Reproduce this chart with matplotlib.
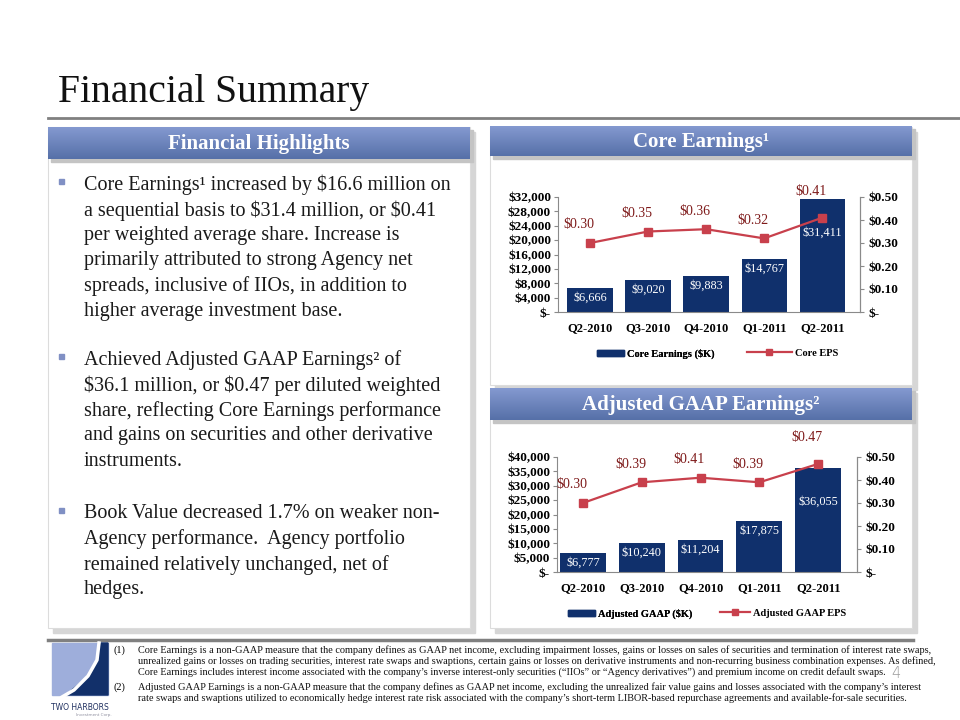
import numpy as np
import matplotlib
matplotlib.use('Agg')
import matplotlib.pyplot as plt
from matplotlib.patches import Rectangle, Polygon
from matplotlib.lines import Line2D
from matplotlib.ticker import FuncFormatter

plt.rcParams['font.family'] = ['Liberation Serif', 'DejaVu Serif']
plt.rcParams['text.parse_math'] = False

# data
quarters = ['Q2-2010', 'Q3-2010', 'Q4-2010', 'Q1-2011', 'Q2-2011']
core_earnings = [6666, 9020, 9883, 14767, 31411]
core_eps = [0.30, 0.35, 0.36, 0.32, 0.41]
adj_gaap = [6777, 10240, 11204, 17875, 36055]
adj_eps = [0.30, 0.39, 0.41, 0.39, 0.47]

bullet1 = ["Core Earnings\u00b9 increased by $16.6 million on",
           "a sequential basis to $31.4 million, or $0.41",
           "per weighted average share. Increase is",
           "primarily attributed to strong Agency net",
           "spreads, inclusive of IIOs, in addition to",
           "higher average investment base."]
bullet2 = ["Achieved Adjusted GAAP Earnings\u00b2 of",
           "$36.1 million, or $0.47 per diluted weighted",
           "share, reflecting Core Earnings performance",
           "and gains on securities and other derivative",
           "instruments."]
bullet3 = ["Book Value decreased 1.7% on weaker non-",
           "Agency performance.  Agency portfolio",
           "remained relatively unchanged, net of",
           "hedges."]

foot1 = ["Core Earnings is a non-GAAP measure that the company defines as GAAP net income, excluding impairment losses, gains or losses on sales of securities and termination of interest rate swaps,",
         "unrealized gains or losses on trading securities, interest rate swaps and swaptions, certain gains or losses on derivative instruments and non-recurring business combination expenses. As defined,",
         "Core Earnings includes interest income associated with the company\u2019s inverse interest-only securities (\u201cIIOs\u201d or \u201cAgency derivatives\u201d) and premium income on credit default swaps."]
foot2 = ["Adjusted GAAP Earnings is a non-GAAP measure that the company defines as GAAP net income, excluding the unrealized fair value gains and losses associated with the company\u2019s interest",
         "rate swaps and swaptions utilized to economically hedge interest rate risk associated with the company\u2019s short-term LIBOR-based repurchase agreements and available-for-sale securities."]

navy = '#10306c'
red = '#c8404c'
darkred = '#7e1a1a'

W, H = 960, 720
fig = plt.figure(figsize=(9.6, 7.2), dpi=100)

# background canvas in pixel coordinates
bg = fig.add_axes([0, 0, 1, 1])
bg.set_xlim(0, W)
bg.set_ylim(H, 0)
bg.axis('off')

bg.text(58, 102, 'Financial Summary', fontsize=28.5, va='baseline', color='#111111')
bg.plot([48, W], [118, 118], color='#808080', lw=2)

grad = np.linspace(0, 1, 64).reshape(-1, 1)
hcmap = matplotlib.colors.LinearSegmentedColormap.from_list('hdr', ['#8499d0', '#5670a8'])


def panel(x0, y0, x1, y1):
    bg.add_patch(Rectangle((x0 + 5, y0 + 5), x1 - x0, y1 - y0, color='#d6d6d6', zorder=1))
    bg.add_patch(Rectangle((x0, y0), x1 - x0, y1 - y0, facecolor='white',
                           edgecolor='#dcdcdc', lw=0.8, zorder=2))


def header(x0, y0, x1, y1, label):
    bg.add_patch(Rectangle((x0 + 3, y0 + 3), x1 - x0, y1 - y0, color='#c4c4c4', zorder=3))
    bg.imshow(grad, extent=[x0, x1, y1, y0], cmap=hcmap, aspect='auto', zorder=4)
    bg.text((x0 + x1) / 2, (y0 + y1) / 2 + 1, label, color='white', fontsize=15,
            fontweight='bold', ha='center', va='center', zorder=5)


panel(48, 127, 470, 628)
panel(490, 127, 912, 385)
panel(490, 388, 912, 628)
header(48, 127, 470, 159, 'Financial Highlights')
header(490, 126, 912, 156, 'Core Earnings\u00b9')
header(490, 388, 912, 420, 'Adjusted GAAP Earnings\u00b2')
bg.set_xlim(0, W)
bg.set_ylim(H, 0)

for lines, y0 in [(bullet1, 185), (bullet2, 360), (bullet3, 514)]:
    bg.add_patch(Rectangle((59, y0 - 6), 5, 5, color='#8090c4', zorder=6))
    for i, ln in enumerate(lines):
        bg.text(84, y0 + i * 25.3, ln, fontsize=14.5, va='center', color='#1a1a1a', zorder=6)

# footer
bg.plot([48, 913], [640, 640], color='#808080', lw=2.5)
for num, lines, fy in [('(1)', foot1, 650), ('(2)', foot2, 687)]:
    bg.text(114, fy, num, fontsize=7.4, va='center')
    for ln in lines:
        bg.text(138, fy, ln, fontsize=7.4, va='center', color='#111111')
        fy += 11.2
bg.text(891, 677.5, '4', fontsize=10.5, va='baseline', color='#9a9a9a', family='DejaVu Sans',
        fontweight='light')

# logo
bg.add_patch(Rectangle((52, 643), 56, 52, color='#9eaedb', zorder=2))
bg.add_patch(Polygon([(108, 643), (108, 695), (66, 695), (86, 678), (98, 660), (101, 643)],
                     color='#12306a', zorder=3))
bg.plot([99, 97, 88, 74, 62], [643, 660, 676, 690, 697], color='white', lw=2.5, zorder=4)
bg.text(80, 707, 'TWO HARBORS', fontsize=5.5, ha='center', va='center', color='#203060',
        family='DejaVu Sans')
bg.text(94, 715, 'Investment Corp.', fontsize=3, ha='center', va='center', color='#9090a0',
        family='DejaVu Sans')


def money(v, pos=None):
    return '$-' if v == 0 else '${:,.0f}'.format(v)


def eps_fmt(v, pos=None):
    return '$-' if v == 0 else '${:.2f}'.format(v)


def make_chart(rect_px, xlim, vals, eps, ymax, ystep, bar_label, eps_label, leg):
    x0, y0, x1, y1 = rect_px
    ax = fig.add_axes([x0 / W, 1 - y1 / H, (x1 - x0) / W, (y1 - y0) / H], zorder=10)
    ax.patch.set_alpha(0)
    x = np.arange(len(quarters))
    ax.bar(x, vals, width=0.78, color=navy, zorder=2)
    ax.set_xlim(*xlim)
    ax.set_ylim(0, ymax)
    ax.set_yticks(np.arange(0, ymax + 1, ystep))
    ax.yaxis.set_major_formatter(FuncFormatter(money))
    ax.set_xticks(x)
    ax.set_xticklabels(quarters)
    ax.spines['top'].set_visible(False)
    for s in ['left', 'bottom', 'right']:
        ax.spines[s].set_color('#8a8a8a')
        ax.spines[s].set_linewidth(0.8)
    ax.tick_params(axis='y', length=3, color='#8a8a8a', pad=2, labelsize=9.5)
    ax.tick_params(axis='x', length=0, pad=7, labelsize=9)
    for t in ax.get_xticklabels() + ax.get_yticklabels():
        t.set_fontweight('bold')
    for i, v in enumerate(vals):
        dy = -24 if i == len(vals) - 1 else -7
        ax.annotate(money(v), (i, v), xytext=(0, dy), textcoords='offset points',
                    ha='center', va='center', color='white', fontsize=8.8, zorder=5)

    ax2 = ax.twinx()
    ax2.set_zorder(11)
    ax2.plot(x, eps, color=red, lw=1.6, marker='s', markersize=6, zorder=3)
    ax2.set_ylim(0, 0.5)
    ax2.set_yticks(np.arange(0, 0.51, 0.1))
    ax2.yaxis.set_major_formatter(FuncFormatter(eps_fmt))
    ax2.tick_params(axis='y', length=3, color='#8a8a8a', pad=3, labelsize=9.5)
    for t in ax2.get_yticklabels():
        t.set_fontweight('bold')
    for s in ['top', 'left', 'bottom']:
        ax2.spines[s].set_visible(False)
    ax2.spines['right'].set_color('#8a8a8a')
    ax2.spines['right'].set_linewidth(0.8)
    for i, v in enumerate(eps):
        dy = 19 if i == len(eps) - 1 else 13
        ax2.annotate(eps_fmt(v), (i, v), xytext=(-8, dy), textcoords='offset points',
                     ha='center', va='center', color=darkred, fontsize=10)

    bx, lx, lh = leg
    h1 = Rectangle((0, 0), 1, 1, color=navy)
    l1 = ax.legend([h1], [bar_label], loc='center left', bbox_to_anchor=(bx, -0.36),
                   frameon=False, borderpad=0, borderaxespad=0, handlelength=2.6,
                   handleheight=0.5, handletextpad=0.3, prop={'weight': 'bold', 'size': 7.5})
    ax.add_artist(l1)
    h2 = Line2D([], [], color=red, lw=1.6, marker='s', markersize=5)
    ax2.legend([h2], [eps_label], loc='center left', bbox_to_anchor=(lx, -0.36),
               frameon=False, borderpad=0, borderaxespad=0, handlelength=lh,
               handletextpad=0.3, prop={'weight': 'bold', 'size': 7.5})


make_chart((558, 197, 860, 312), (-0.55, 4.65), core_earnings, core_eps, 32000, 4000,
           'Core Earnings ($K)', 'Core EPS', (0.13, 0.626, 4.3))
make_chart((557, 457, 857, 572), (-0.44, 4.66), adj_gaap, adj_eps, 40000, 5000,
           'Adjusted GAAP ($K)', 'Adjusted GAAP EPS', (0.037, 0.543, 2.9))

fig.savefig('out.png', dpi=100)
